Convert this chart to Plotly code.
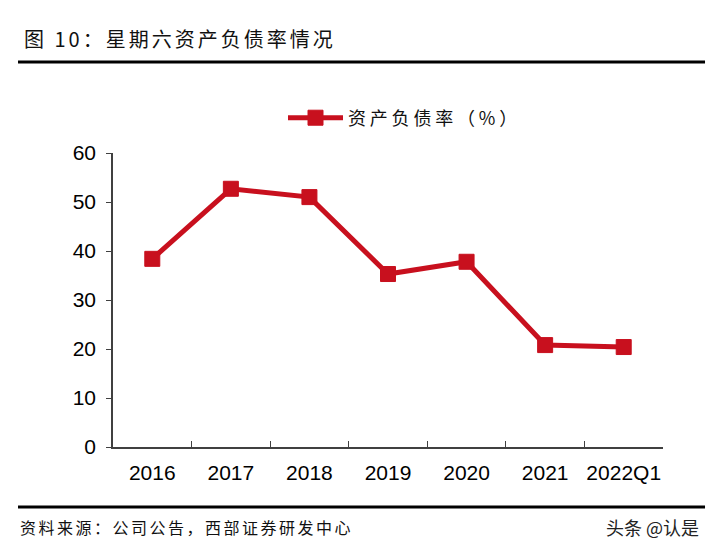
import plotly.graph_objects as go

categories = ["2016", "2017", "2018", "2019", "2020", "2021", "2022Q1"]
debt_ratio = [38.4, 52.7, 51.0, 35.3, 37.8, 20.8, 20.4]
series_name = "资产负债率（%）"
title_text = "图 10：星期六资产负债率情况"
source_text = "资料来源：公司公告，西部证券研发中心"
watermark_text = "头条 @认是"

RED = "#C8101E"
CJK = "Noto Sans CJK SC"
NUM = "Liberation Sans, Arial, sans-serif"


def spaced(t, px):
    return f'<span style="letter-spacing:{px}px">{t}</span>'


fig = go.Figure()
fig.add_trace(go.Scatter(
    x=categories, y=debt_ratio, name=spaced(series_name, 3.8),
    mode="lines+markers",
    line=dict(color=RED, width=5),
    marker=dict(symbol="square", size=15, color=RED, line=dict(color=RED, width=1)),
))

fig.update_layout(
    width=715, height=551,
    margin=dict(l=105, r=60, t=145, b=112),
    paper_bgcolor="white", plot_bgcolor="white",
    showlegend=True,
    legend=dict(orientation="h", x=0.53, xanchor="center", y=1.119, yanchor="middle",
                itemwidth=55,
                font=dict(family=CJK, size=18, color="#111111"),
                bgcolor="rgba(0,0,0,0)"),
    xaxis=dict(type="category", range=[-0.5, 6.5], showline=True, linecolor="#404040", linewidth=1.5,
               ticks="inside", tickson="boundaries", ticklen=6, tickcolor="#404040", tickangle=0,
               showgrid=False, tickfont=dict(family=NUM, size=21, color="#000000"), ticklabelstandoff=6),
    yaxis=dict(range=[0, 60], dtick=10, showline=True, linecolor="#404040", linewidth=1.5,
               ticks="outside", ticklen=5, tickcolor="#404040", showgrid=False, zeroline=False,
               ticklabelstandoff=6,
               tickfont=dict(family=NUM, size=21, color="#000000")),
    font=dict(family=CJK),
)

fig.add_shape(type="line", xref="paper", yref="paper", x0=-0.1727, x1=1.0764, y0=1.3095, y1=1.3095,
              line=dict(color="black", width=3))
fig.add_shape(type="line", xref="paper", yref="paper", x0=-0.1727, x1=1.0764, y0=-0.2045, y1=-0.2045,
              line=dict(color="black", width=3))

fig.add_annotation(text=spaced(title_text, 3), xref="paper", yref="paper", x=-0.165, y=1.391,
                   xanchor="left", yanchor="middle", showarrow=False,
                   font=dict(family=CJK, size=20, color="#111111"))
fig.add_annotation(text=spaced(source_text, 2.5), xref="paper", yref="paper", x=-0.172, y=-0.272,
                   xanchor="left", yanchor="middle", showarrow=False,
                   font=dict(family=CJK, size=16, color="#111111"))
fig.add_annotation(text=watermark_text, xref="paper", yref="paper", x=1.069, y=-0.272,
                   xanchor="right", yanchor="middle", showarrow=False,
                   font=dict(family=CJK, size=18, color="#222222"))

fig.write_html("out.html")
